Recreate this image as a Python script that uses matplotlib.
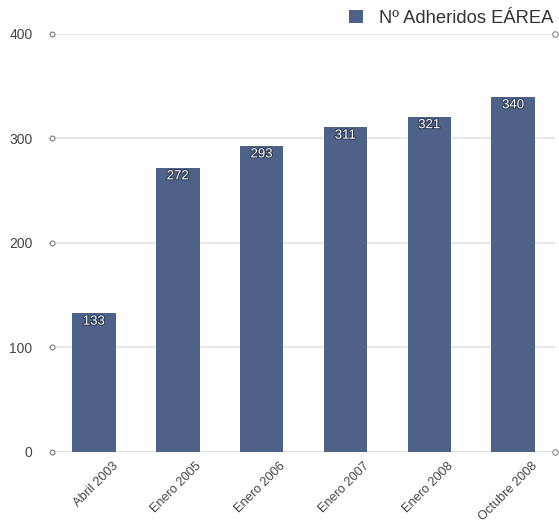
import matplotlib
matplotlib.use('Agg')
from matplotlib import pyplot as plt
import matplotlib.patheffects as pe
import matplotlib.transforms as mtransforms

# Data
fechas = ['Abril 2003', 'Enero 2005', 'Enero 2006', 'Enero 2007', 'Enero 2008', 'Octubre 2008']
adheridos = [133, 272, 293, 311, 321, 340]
y_ticks = [0, 100, 200, 300, 400]
serie = 'Nº Adheridos EÁREA'

bar_color = '#4d6189'
plt.rcParams['font.family'] = ['Liberation Sans', 'DejaVu Sans']

fig = plt.figure(figsize=(5.59, 5.26), dpi=100)
ax = fig.add_axes([0.093, 0.1407, 0.900, 0.7947])

x = list(range(len(fechas)))
bars = ax.bar(x, adheridos, width=0.52, color=bar_color, zorder=3, label=serie)

# value labels inside top of each bar
for xi, v in zip(x, adheridos):
    ax.text(xi, v - 2.5, str(v), ha='center', va='top', color='white', fontsize=9.5,
            zorder=4, path_effects=[pe.withStroke(linewidth=1.5, foreground='#2e3b55')])

ax.set_xlim(-0.5, len(fechas) - 0.5)
ax.set_ylim(0, 400)
ax.set_yticks(y_ticks)
ax.set_xticks(x)
ax.set_xticklabels(fechas, rotation=45, ha='right', rotation_mode='anchor', fontsize=9.2, color='#444444')
ax.tick_params(axis='x', length=0, pad=6)
ax.tick_params(axis='y', length=0, pad=14, labelsize=10, labelcolor='#444444')

# shift the rotated labels to the right, as in the reference
shift = mtransforms.ScaledTranslation(18 / 100, 0, fig.dpi_scale_trans)
for lab in ax.get_xticklabels():
    lab.set_transform(lab.get_transform() + shift)

# grid lines
for t in y_ticks[1:]:
    ax.axhline(t, color='#e3e3e3', linewidth=1.2, zorder=1)
ax.axhline(0, color='#666666', linewidth=1.0, zorder=5)

for s in ax.spines.values():
    s.set_visible(False)

# small circle markers at tick positions
ax.plot([-0.5] * len(y_ticks), y_ticks, 'o', ms=3.5, mfc='white', mec='#777777', mew=0.8,
        clip_on=False, zorder=6)
ax.plot([len(fechas) - 0.5] * 2, [0, 400], 'o', ms=4, mfc='white', mec='#888888', mew=0.8,
        clip_on=False, zorder=6)

# legend top right
leg = fig.legend(handles=[bars], labels=[serie], loc='upper right', bbox_to_anchor=(1.02, 1.013),
                 frameon=False, fontsize=13.2, handlelength=0.75, handleheight=0.75,
                 handletextpad=0.9)
for t in leg.get_texts():
    t.set_color('#333333')

fig.savefig('out.png', dpi=100)
